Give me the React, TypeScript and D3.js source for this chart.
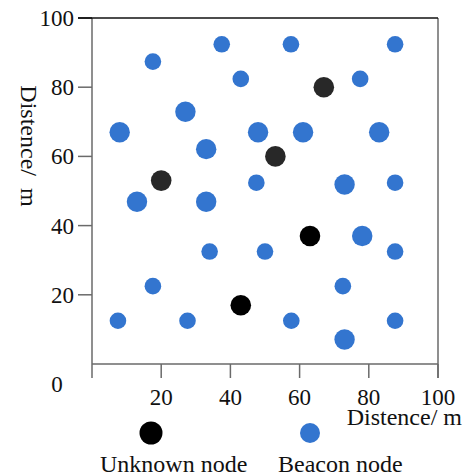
import React, { useRef, useEffect } from 'react';
import * as d3 from 'd3';

// beacon nodes (small markers)
const beaconSmallX = [37.5, 57.5, 87.6, 17.6, 43.0, 77.5, 47.5, 87.6, 34.0, 50.0, 87.6, 17.6, 72.5, 7.5, 27.6, 57.6, 87.6];
const beaconSmallY = [92.4, 92.4, 92.4, 87.4, 82.4, 82.4, 52.4, 52.4, 32.5, 32.5, 32.5, 22.5, 22.5, 12.5, 12.5, 12.5, 12.5];
// beacon nodes (large markers)
const beaconLargeX = [27.0, 8.0, 48.0, 61.0, 83.0, 33.0, 73.0, 13.0, 33.0, 78.1, 73.0];
const beaconLargeY = [72.9, 67.0, 67.0, 67.0, 67.0, 62.1, 51.9, 46.9, 46.9, 37.0, 7.1];
// unknown nodes
const unknownX = [20.0, 67.0, 53.0, 63.0, 43.0];
const unknownY = [53.0, 80.0, 60.0, 37.0, 17.0];
const unknownShade = ['#282828', '#282828', '#282828', '#000000', '#000000'];

const ticks = [20, 40, 60, 80, 100];
const axisTitle = 'Distence/ m';
const legendNames = ['Unknown node', 'Beacon node'];

const BLUE = '#3375cf';
const FONT = '"Liberation Serif", "Times New Roman", serif';

const App = () => {
  const svgRef = useRef(null);
  const W = 463, H = 476;

  useEffect(() => {
    draw();
  }, []);

  const draw = () => {
    const svg = d3.select(svgRef.current);
    svg.selectAll('*').remove();

    const x = d3.scaleLinear().domain([0, 100]).range([92, 438]);
    const y = d3.scaleLinear().domain([0, 100]).range([364, 18]);
    const tickLen = 14;
    const axisColor = '#6a6a6a';

    const g = svg.append('g');

    // frame: left & bottom axis, right border, top border
    g.append('line').attr('x1', x(0)).attr('x2', x(0)).attr('y1', y(100)).attr('y2', y(0) + tickLen)
      .attr('stroke', axisColor).attr('stroke-width', 1.5);
    g.append('line').attr('x1', x(0)).attr('x2', x(100)).attr('y1', y(0)).attr('y2', y(0))
      .attr('stroke', axisColor).attr('stroke-width', 1.5);
    g.append('line').attr('x1', x(100)).attr('x2', x(100)).attr('y1', y(100)).attr('y2', y(0) + tickLen)
      .attr('stroke', axisColor).attr('stroke-width', 1.5);
    g.append('line').attr('x1', x(0) - tickLen).attr('x2', x(100)).attr('y1', y(100)).attr('y2', y(100))
      .attr('stroke', '#111').attr('stroke-width', 1.5);

    // y ticks
    g.selectAll('.yt').data(ticks).enter().append('line')
      .attr('x1', x(0) - tickLen).attr('x2', x(0))
      .attr('y1', d => y(d)).attr('y2', d => y(d))
      .attr('stroke', d => d === 100 ? '#111' : axisColor).attr('stroke-width', 1.5);
    g.selectAll('.yl').data(ticks).enter().append('text')
      .attr('x', x(0) - 18).attr('y', d => y(d) + 8)
      .attr('text-anchor', 'end')
      .style('font-family', FONT).style('font-size', '23px').attr('fill', '#111')
      .text(d => d);

    // x ticks
    g.selectAll('.xt').data(ticks).enter().append('line')
      .attr('x1', d => x(d)).attr('x2', d => x(d))
      .attr('y1', y(0)).attr('y2', y(0) + tickLen)
      .attr('stroke', axisColor).attr('stroke-width', 1.5);
    g.selectAll('.xl').data(ticks).enter().append('text')
      .attr('x', d => x(d)).attr('y', y(0) + 41)
      .attr('text-anchor', 'middle')
      .style('font-family', FONT).style('font-size', '23px').attr('fill', '#111')
      .text(d => d);

    // shared origin label
    g.append('text').attr('x', 57).attr('y', y(0) + 28).attr('text-anchor', 'middle')
      .style('font-family', FONT).style('font-size', '23px').attr('fill', '#111').text(0);

    // axis titles
    g.append('text').attr('x', 462).attr('y', 425).attr('text-anchor', 'end')
      .style('font-family', FONT).style('font-size', '24px').attr('fill', '#111')
      .text(axisTitle);
    g.append('text')
      .attr('transform', 'translate(21,146)rotate(90)')
      .attr('text-anchor', 'middle')
      .style('font-family', FONT).style('font-size', '24px').style('white-space', 'pre').attr('fill', '#111')
      .text(axisTitle.replace(' ', '  '));

    // beacon nodes
    g.selectAll('.bs').data(beaconSmallX).enter().append('circle')
      .attr('cx', d => x(d)).attr('cy', (d, i) => y(beaconSmallY[i]))
      .attr('r', 8.3).attr('fill', BLUE);
    g.selectAll('.bl').data(beaconLargeX).enter().append('circle')
      .attr('cx', d => x(d)).attr('cy', (d, i) => y(beaconLargeY[i]))
      .attr('r', 10.2).attr('fill', BLUE);
    // unknown nodes
    g.selectAll('.un').data(unknownX).enter().append('circle')
      .attr('cx', d => x(d)).attr('cy', (d, i) => y(unknownY[i]))
      .attr('r', 10.3).attr('fill', (d, i) => unknownShade[i]);

    // legend
    const legend = [
      { name: legendNames[0], cx: 151, r: 11.5, color: '#000', tx: 100 },
      { name: legendNames[1], cx: 310, r: 10, color: BLUE, tx: 278 },
    ];
    const lg = g.selectAll('.lg').data(legend).enter().append('g');
    lg.append('circle').attr('cx', d => d.cx).attr('cy', 433).attr('r', d => d.r).attr('fill', d => d.color);
    lg.append('text').attr('x', d => d.tx).attr('y', 472)
      .style('font-family', FONT).style('font-size', '24px').attr('fill', '#111')
      .text(d => d.name);
  };

  return (
    <svg width={W} height={H} style={{ position: 'absolute', left: 0, top: 0, background: '#fff' }}>
      <g ref={svgRef} />
    </svg>
  );
};

export default App;
